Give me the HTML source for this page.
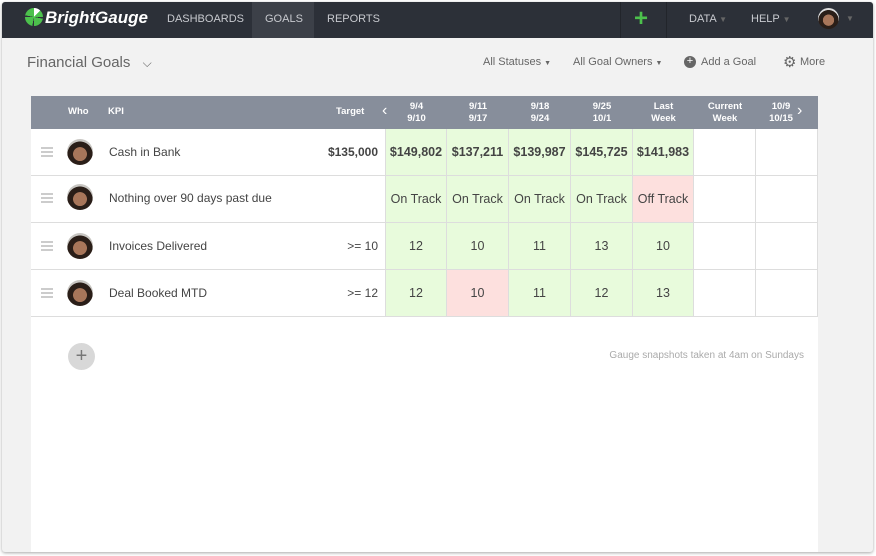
<!DOCTYPE html>
<html><head><meta charset="utf-8"><style>
*{margin:0;padding:0;box-sizing:border-box}
body{width:876px;height:556px;background:#fff;font-family:"Liberation Sans",sans-serif;position:relative;overflow:hidden}
.a{position:absolute}
#frame{left:2px;top:2px;width:871px;height:550px;background:#f2f2f2;box-shadow:0 1px 3px rgba(0,0,0,.35);border-radius:3px;overflow:hidden}
#nav{left:2px;top:2px;width:871px;height:36px;background:#2c3038;border-radius:3px 3px 0 0}
.nt{color:#c8cacf;font-size:11px;top:13px}
#panel{left:31px;top:96px;width:787px;height:456px;background:#fff}
#hdr{left:31px;top:96px;width:787px;height:33px;background:#878e9b}
.h{color:#fff;font-size:9.5px;font-weight:bold;text-align:center;line-height:12px}
.cell{position:absolute;height:47px;border-right:1px solid #ddd;border-bottom:1px solid #ddd;display:flex;align-items:center;justify-content:center;font-size:12.5px;color:#444}
.g{background:#e8fbdc}.r{background:#fde0de}
.rowl{position:absolute;left:31px;width:355px;height:47px;border-bottom:1px solid #ddd}
.kpi{position:absolute;left:78px;top:16px;font-size:12px;color:#444}
.tg{position:absolute;right:8px;top:16px;font-size:12px;color:#444}
.av{position:absolute;left:36px;top:10px;width:26px;height:26px;border-radius:50%;background:radial-gradient(circle at 50% 58%,#a8765a 0 34%,#2a1e18 36% 62%,#c8c6c2 64%)}
.hb{position:absolute;left:10px;top:18px;width:12px;height:10px;border-top:2px solid #ccc;border-bottom:2px solid #ccc}
.hb:after{content:"";position:absolute;left:0;top:2px;width:12px;height:2px;background:#ccc}
.tb{color:#666;font-size:11px;top:56px}
</style></head><body>
<div class="a" id="frame"></div>
<div class="a" id="nav"></div>
<div class="a" style="left:25px;top:8px;width:18px;height:18px;border-radius:50%;background:conic-gradient(#fff 0 12%,#4cc14c 12% 25%,#2c3038 25% 28%,#4cc14c 28% 50%,#2c3038 50% 53%,#4cc14c 53% 75%,#2c3038 75% 78%,#4cc14c 78%)"></div>
<div class="a" style="left:45px;top:8px;color:#fff;font-size:17px;font-weight:bold;font-style:italic">BrightGauge</div>
<div class="a nt" style="left:167px">DASHBOARDS</div>
<div class="a" style="left:252px;top:2px;width:62px;height:36px;background:#3c4048"></div>
<div class="a nt" style="left:265px">GOALS</div>
<div class="a nt" style="left:327px">REPORTS</div>
<div class="a" style="left:620px;top:2px;width:1px;height:36px;background:#22252b"></div>
<div class="a" style="left:666px;top:2px;width:1px;height:36px;background:#22252b"></div>
<div class="a" style="left:634px;top:5px;color:#4cc14c;font-size:24px;font-weight:bold">+</div>
<div class="a nt" style="left:689px">DATA <span style="color:#666;font-size:8px">▼</span></div>
<div class="a nt" style="left:751px">HELP <span style="color:#666;font-size:8px">▼</span></div>
<div class="a" style="left:818px;top:8px;width:21px;height:21px;border-radius:50%;background:radial-gradient(circle at 50% 58%,#a8765a 0 34%,#2a1e18 36% 62%,#ddd 64%)"></div>
<div class="a" style="left:846px;top:14px;color:#666;font-size:8px">▼</div>

<div class="a" style="left:27px;top:54px;font-size:15px;color:#666">Financial Goals <span style="font-size:12px;margin-left:8px">⌵</span></div>
<div class="a tb" style="left:483px">All Statuses <span style="font-size:7px">▼</span></div>
<div class="a tb" style="left:573px">All Goal Owners <span style="font-size:7px">▼</span></div>
<div class="a" style="left:684px;top:56px;width:12px;height:12px;border-radius:50%;background:#666;color:#fff;font-size:11px;line-height:11px;text-align:center">+</div>
<div class="a tb" style="left:701px">Add a Goal</div>
<div class="a" style="left:783px;top:53px;color:#666;font-size:15px">⚙</div>
<div class="a tb" style="left:800px">More</div>

<div class="a" id="panel"></div>
<div class="a" id="hdr"></div>
<div class="a h" style="left:68px;top:106px">Who</div>
<div class="a h" style="left:108px;top:106px">KPI</div>
<div class="a h" style="left:336px;top:106px">Target</div>
<div class="a" style="left:382px;top:102px;color:#fff;font-size:16px">‹</div>
<div class="a" style="left:797px;top:102px;color:#fff;font-size:16px">›</div>
<div class="a h" style="left:386px;top:101px;width:61px">9/4<br>9/10</div>
<div class="a h" style="left:447px;top:101px;width:62px">9/11<br>9/17</div>
<div class="a h" style="left:509px;top:101px;width:62px">9/18<br>9/24</div>
<div class="a h" style="left:571px;top:101px;width:62px">9/25<br>10/1</div>
<div class="a h" style="left:633px;top:101px;width:61px">Last<br>Week</div>
<div class="a h" style="left:694px;top:101px;width:62px">Current<br>Week</div>
<div class="a h" style="left:756px;top:101px;width:50px">10/9<br>10/15</div>

<div class="rowl" style="top:129px"><div class="hb"></div><div class="av"></div><div class="kpi">Cash in Bank</div><div class="tg" style="font-weight:bold">$135,000</div></div>
<div class="rowl" style="top:176px"><div class="hb" style="top:17px"></div><div class="av" style="top:8px"></div><div class="kpi" style="top:15px">Nothing over 90 days past due</div></div>
<div class="rowl" style="top:223px"><div class="hb"></div><div class="av"></div><div class="kpi">Invoices Delivered</div><div class="tg">&gt;= 10</div></div>
<div class="rowl" style="top:270px"><div class="hb"></div><div class="av"></div><div class="kpi">Deal Booked MTD</div><div class="tg">&gt;= 12</div></div>
<div class="a" style="left:385px;top:129px;width:1px;height:188px;background:#ddd"></div>

<div class="cell g" style="left:386px;top:129px;width:61px;font-weight:bold">$149,802</div>
<div class="cell g" style="left:447px;top:129px;width:62px;font-weight:bold">$137,211</div>
<div class="cell g" style="left:509px;top:129px;width:62px;font-weight:bold">$139,987</div>
<div class="cell g" style="left:571px;top:129px;width:62px;font-weight:bold">$145,725</div>
<div class="cell g" style="left:633px;top:129px;width:61px;font-weight:bold">$141,983</div>
<div class="cell" style="left:694px;top:129px;width:62px"></div>
<div class="cell" style="left:756px;top:129px;width:62px"></div>

<div class="cell g" style="left:386px;top:176px;width:61px">On Track</div>
<div class="cell g" style="left:447px;top:176px;width:62px">On Track</div>
<div class="cell g" style="left:509px;top:176px;width:62px">On Track</div>
<div class="cell g" style="left:571px;top:176px;width:62px">On Track</div>
<div class="cell r" style="left:633px;top:176px;width:61px">Off Track</div>
<div class="cell" style="left:694px;top:176px;width:62px"></div>
<div class="cell" style="left:756px;top:176px;width:62px"></div>

<div class="cell g" style="left:386px;top:223px;width:61px">12</div>
<div class="cell g" style="left:447px;top:223px;width:62px">10</div>
<div class="cell g" style="left:509px;top:223px;width:62px">11</div>
<div class="cell g" style="left:571px;top:223px;width:62px">13</div>
<div class="cell g" style="left:633px;top:223px;width:61px">10</div>
<div class="cell" style="left:694px;top:223px;width:62px"></div>
<div class="cell" style="left:756px;top:223px;width:62px"></div>

<div class="cell g" style="left:386px;top:270px;width:61px">12</div>
<div class="cell r" style="left:447px;top:270px;width:62px">10</div>
<div class="cell g" style="left:509px;top:270px;width:62px">11</div>
<div class="cell g" style="left:571px;top:270px;width:62px">12</div>
<div class="cell g" style="left:633px;top:270px;width:61px">13</div>
<div class="cell" style="left:694px;top:270px;width:62px"></div>
<div class="cell" style="left:756px;top:270px;width:62px"></div>

<div class="a" style="left:68px;top:343px;width:27px;height:27px;border-radius:50%;background:#d8d8d8;color:#777;font-size:20px;line-height:26px;text-align:center">+</div>
<div class="a" style="right:72px;top:350px;font-size:10px;color:#aaa">Gauge snapshots taken at 4am on Sundays</div>
</body></html>
